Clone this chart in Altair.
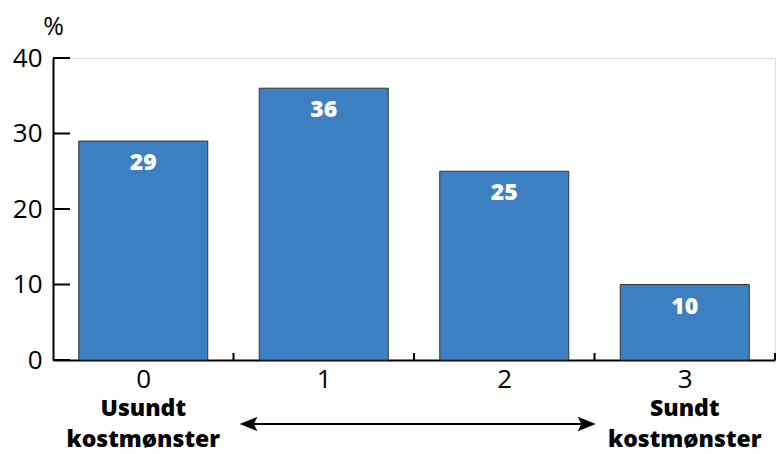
import altair as alt
import pandas as pd

categories = [0, 1, 2, 3]
values = [29, 36, 25, 10]
y_ticks = [0, 10, 20, 30, 40]
x_boundaries = [0.5, 1.5, 2.5, 3.5]
end_words = ["Usundt", "kostmønster", "Sundt", "kostmønster"]
end_word_pos = [0, 0, 3, 3]
end_word_line = [0, 1, 0, 1]
arrow_from = 0.59
arrow_to = 2.45

FONT = "Open Sans"
W, H = 722, 302

bars_df = pd.DataFrame({"cat": categories, "val": values})
yt_df = pd.DataFrame({"v": y_ticks})
xt_df = pd.DataFrame({"v": x_boundaries})
end_df = pd.DataFrame({"pos": end_word_pos, "txt": end_words, "line": end_word_line})
arrow_df = pd.DataFrame({"a": [arrow_from], "b": [arrow_to]})
heads_df = pd.DataFrame({"p": [arrow_from, arrow_to], "dir": ["L", "R"]})

xscale = alt.Scale(domain=[-0.5, 3.5], nice=False, zero=False, padding=0)
yscale = alt.Scale(domain=[0, 40], nice=False, padding=0)

xaxis = alt.Axis(values=categories, format="d", ticks=False, grid=False,
                 domainColor="black", domainWidth=2, labelFontSize=26,
                 labelFont=FONT, labelColor="black", labelPadding=6, title=None)
yaxis = alt.Axis(values=y_ticks, ticks=False, grid=False, domainColor="black",
                 domainWidth=2, labelFontSize=26, labelFont=FONT, labelColor="black",
                 labelPadding=11, title="%", titleAngle=0, titleX=0, titleY=-32,
                 titleAlign="center", titleBaseline="middle", titleFont=FONT,
                 titleFontSize=25, titleFontWeight="normal", titleColor="black")

bars = alt.Chart(bars_df).mark_bar(size=129, orient="vertical", color="#3c80c2",
                                   stroke="#333333", strokeWidth=1).encode(
    x=alt.X("cat:Q", scale=xscale, axis=xaxis),
    y=alt.Y("val:Q", scale=yscale, axis=yaxis),
)

labels = alt.Chart(bars_df).mark_text(color="white", font=FONT, fontWeight=800,
                                      fontSize=23, dy=22, baseline="middle").encode(
    x=alt.X("cat:Q", scale=xscale),
    y=alt.Y("val:Q", scale=yscale),
    text=alt.Text("val:Q"),
)

yticks = alt.Chart(yt_df).mark_rule(color="black", strokeWidth=2).encode(
    y=alt.Y("v:Q", scale=yscale),
    x=alt.value(0), x2=alt.value(17),
)

xticks = alt.Chart(xt_df).mark_rule(color="black", strokeWidth=2).encode(
    x=alt.X("v:Q", scale=xscale),
    y=alt.value(H), y2=alt.value(H - 7),
)

ends = alt.Chart(end_df).transform_calculate(
    yoff="datum.line * 31",
    xoff="datum.pos > 1 ? 5 : 0",
).mark_text(font=FONT, fontWeight=800, fontSize=23, color="black",
            baseline="middle", align="center").encode(
    x=alt.X("pos:Q", scale=xscale),
    y=alt.value(H + 49),
    yOffset=alt.YOffset("yoff:Q", scale=None),
    xOffset=alt.XOffset("xoff:Q", scale=None),
    text="txt:N",
)

arrow_line = alt.Chart(arrow_df).mark_rule(color="black", strokeWidth=2).encode(
    x=alt.X("a:Q", scale=xscale),
    x2="b:Q",
    y=alt.value(H + 64),
)

heads = alt.Chart(heads_df).mark_point(filled=True, color="black", opacity=1, size=420).encode(
    x=alt.X("p:Q", scale=xscale),
    y=alt.value(H + 64),
    shape=alt.Shape("dir:N", scale=alt.Scale(
        domain=["L", "R"],
        range=["M -1 0 L 0.75 -0.7 L 0.4 0 L 0.75 0.7 Z",
               "M 1 0 L -0.75 -0.7 L -0.4 0 L -0.75 0.7 Z"]), legend=None),
)

chart = alt.layer(bars, labels, yticks, xticks, ends, arrow_line, heads).properties(
    width=W, height=H,
    autosize=alt.AutoSizeParams(type="none"),
    padding={"left": 53, "top": 58, "right": 9, "bottom": 94},
).configure_view(stroke=None).configure(background="white")

chart.save("out.html", embed_options={"renderer": "svg", "actions": False})
